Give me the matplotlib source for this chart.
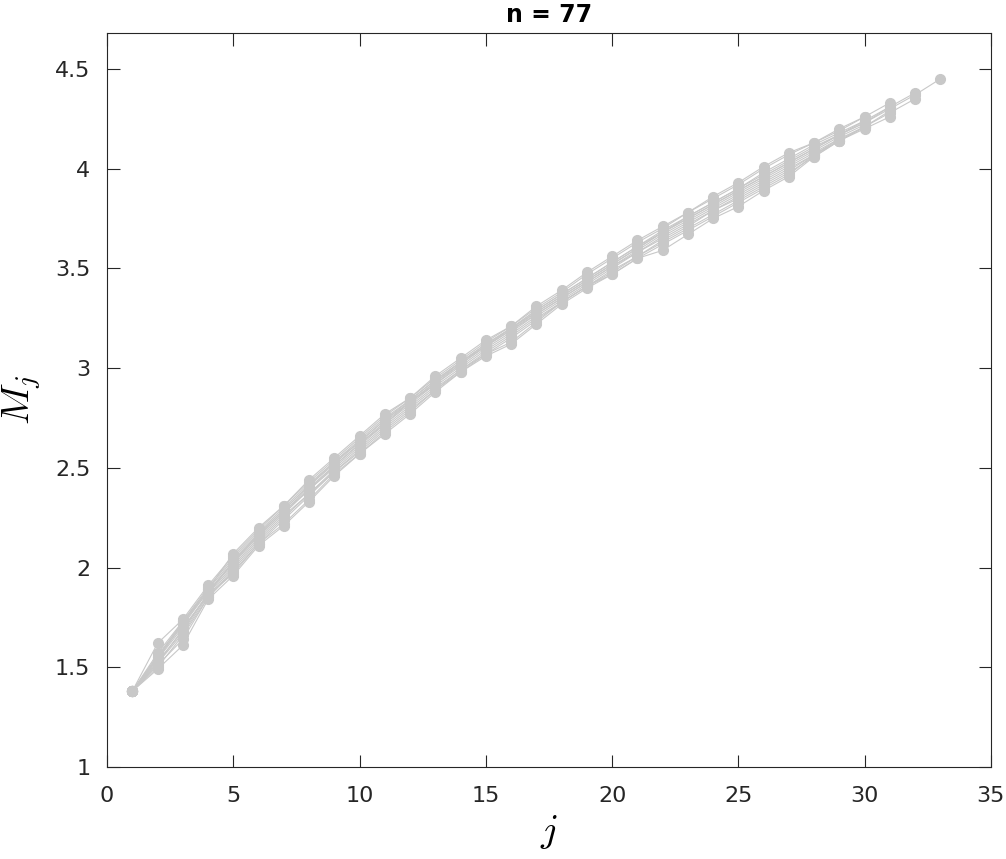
import matplotlib
matplotlib.use("Agg")
import matplotlib.pyplot as plt

plt.rcParams["mathtext.fontset"] = "cm"

# M_j values per run (runs have different lengths)
runs = [
    [1.38, 1.55, 1.71, 1.88, 2.02, 2.16, 2.28, 2.40, 2.51, 2.62, 2.73, 2.83, 2.93, 3.02, 3.11, 3.19, 3.28,
     3.36, 3.44, 3.52, 3.60, 3.68, 3.75, 3.82, 3.89, 3.96, 4.03, 4.10, 4.17, 4.23, 4.30, 4.37, 4.45],
    [1.38, 1.52, 1.69, 1.87, 2.01, 2.15, 2.27, 2.39, 2.50, 2.61, 2.72, 2.82, 2.92, 3.01, 3.10, 3.18, 3.27,
     3.35, 3.43, 3.51, 3.58, 3.66, 3.73, 3.80, 3.87, 3.94, 4.01, 4.08, 4.15, 4.21, 4.28, 4.35],
    [1.38, 1.56, 1.72, 1.89, 2.04, 2.17, 2.29, 2.41, 2.52, 2.63, 2.74, 2.84, 2.94, 3.03, 3.12, 3.20, 3.29,
     3.37, 3.45, 3.53, 3.61, 3.69, 3.76, 3.83, 3.90, 3.97, 4.04, 4.11, 4.17, 4.24, 4.31, 4.38],
    [1.38, 1.62, 1.74, 1.91, 2.06, 2.19, 2.31, 2.43, 2.54, 2.65, 2.76, 2.85, 2.95, 3.04, 3.13, 3.21, 3.30,
     3.38, 3.47, 3.55, 3.63, 3.70, 3.78, 3.85, 3.92, 4.00, 4.07, 4.13, 4.19, 4.26, 4.33],
    [1.38, 1.49, 1.61, 1.84, 1.96, 2.11, 2.21, 2.33, 2.46, 2.57, 2.67, 2.77, 2.88, 2.98, 3.06, 3.12, 3.22,
     3.32, 3.40, 3.47, 3.55, 3.59, 3.67, 3.75, 3.81, 3.89, 3.96, 4.06, 4.14, 4.20, 4.26],
    [1.38, 1.54, 1.70, 1.86, 2.00, 2.14, 2.26, 2.37, 2.49, 2.60, 2.71, 2.81, 2.91, 3.00, 3.09, 3.17, 3.26,
     3.34, 3.42, 3.50, 3.58, 3.65, 3.72, 3.79, 3.86, 3.93, 4.00, 4.07, 4.14, 4.21, 4.29],
    [1.38, 1.50, 1.66, 1.85, 1.98, 2.12, 2.24, 2.36, 2.48, 2.59, 2.70, 2.80, 2.90, 2.99, 3.08, 3.16, 3.25,
     3.33, 3.41, 3.49, 3.56, 3.63, 3.70, 3.77, 3.84, 3.91, 3.98, 4.06, 4.14, 4.21],
    [1.38, 1.57, 1.73, 1.90, 2.05, 2.18, 2.30, 2.42, 2.53, 2.64, 2.75, 2.84, 2.94, 3.03, 3.12, 3.20, 3.28,
     3.36, 3.44, 3.52, 3.60, 3.68, 3.76, 3.83, 3.90, 3.98, 4.05, 4.12, 4.18, 4.24],
    [1.38, 1.53, 1.68, 1.87, 2.03, 2.16, 2.28, 2.39, 2.51, 2.62, 2.72, 2.83, 2.92, 3.02, 3.11, 3.19, 3.27,
     3.35, 3.43, 3.51, 3.59, 3.67, 3.74, 3.81, 3.88, 3.95, 4.02, 4.09, 4.16, 4.22],
    [1.38, 1.51, 1.64, 1.85, 1.99, 2.13, 2.25, 2.37, 2.48, 2.58, 2.69, 2.79, 2.89, 2.99, 3.07, 3.15, 3.24,
     3.33, 3.41, 3.48, 3.56, 3.64, 3.71, 3.79, 3.85, 3.92, 3.99, 4.07, 4.15],
    [1.38, 1.55, 1.73, 1.89, 2.07, 2.20, 2.31, 2.44, 2.55, 2.66, 2.77, 2.85, 2.96, 3.05, 3.14, 3.21, 3.31,
     3.39, 3.48, 3.56, 3.64, 3.71, 3.78, 3.86, 3.93, 4.01, 4.08, 4.13, 4.20, 4.26],
    [1.38, 1.52, 1.67, 1.86, 1.97, 2.12, 2.22, 2.34, 2.47, 2.57, 2.68, 2.78, 2.89, 2.98, 3.07, 3.13, 3.23,
     3.33, 3.41, 3.47, 3.55, 3.62, 3.69, 3.76, 3.83, 3.90, 3.97, 4.07, 4.14, 4.21],
    [1.38, 1.54, 1.72, 1.88, 2.03, 2.17, 2.29, 2.41, 2.53, 2.63, 2.74, 2.83, 2.93, 3.03, 3.11, 3.20, 3.29,
     3.37, 3.45, 3.53, 3.61, 3.68, 3.75, 3.82, 3.89, 3.96, 4.03, 4.10, 4.17, 4.23, 4.31],
]
title = "n = 77"
xticks = [0, 5, 10, 15, 20, 25, 30, 35]
yticks = [1, 1.5, 2, 2.5, 3, 3.5, 4, 4.5]
yticklabels = ["1", "1.5", "2", "2.5", "3", "3.5", "4", "4.5"]

fig = plt.figure(figsize=(10.06, 8.59), dpi=100)
ax = fig.add_axes([0.1064, 0.1071, 0.8786, 0.8545])

gray = "#c8c8c8"
for r in runs:
    j = list(range(1, len(r) + 1))
    ax.plot(j, r, "-o", color=gray, lw=0.8, ms=7, mec=gray, mfc=gray)

ax.set_xlim(0, 35)
ax.set_ylim(1, 4.68)
ax.set_xticks(xticks)
ax.set_yticks(yticks)
ax.set_yticklabels(yticklabels)

dark = "#262626"
for s in ax.spines.values():
    s.set_color(dark)
    s.set_linewidth(0.8)
ax.tick_params(direction="in", length=9, width=0.8, colors=dark, labelsize=16,
               top=True, right=True)
ax.tick_params(axis="x", pad=14)
ax.tick_params(axis="y", pad=12)

ax.set_title(title, fontsize=17, fontweight="bold", pad=8)
ax.set_xlabel("$j$", fontsize=28, labelpad=5)
ax.set_ylabel("$M_j$", fontsize=28)
ax.yaxis.set_label_coords(-0.072, 0.5)

fig.savefig("out.png", dpi=100)
